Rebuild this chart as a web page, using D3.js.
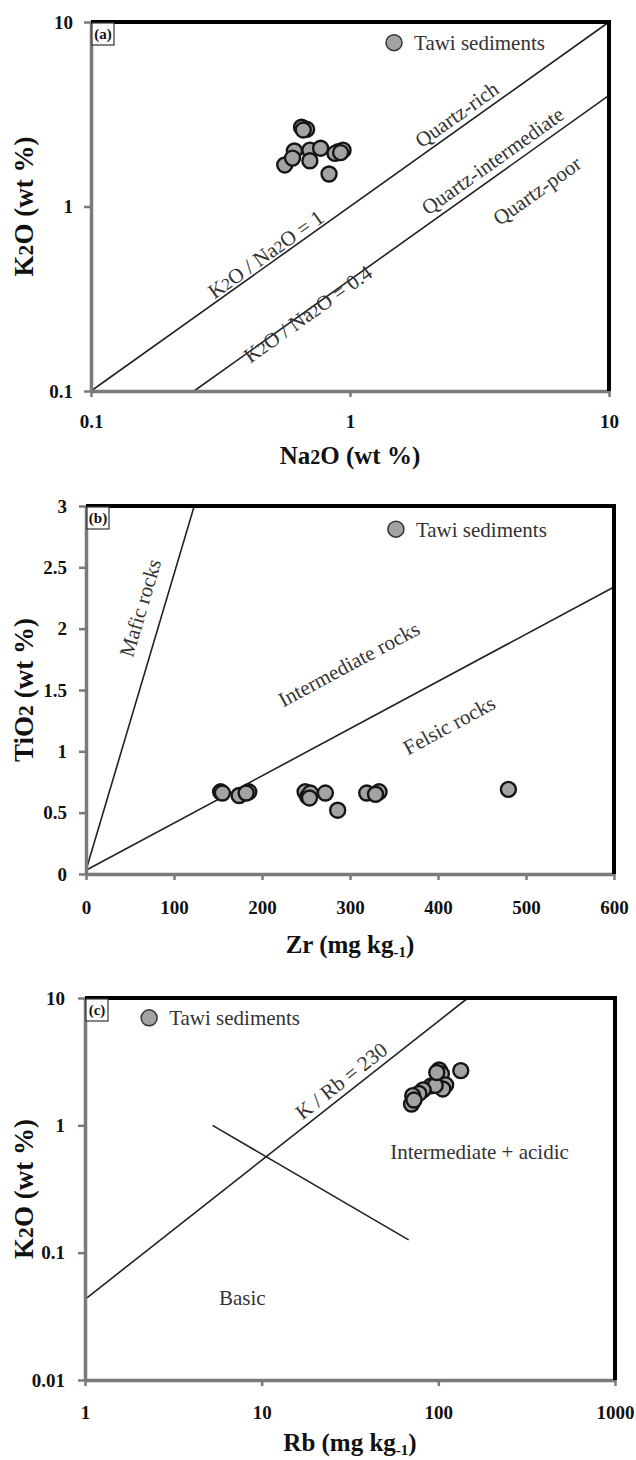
<!DOCTYPE html>
<html>
<head>
<meta charset="utf-8">
<script src="https://cdn.jsdelivr.net/npm/d3@7"></script>
<style>
body{margin:0;background:#fff;}
text{font-family:"Liberation Serif","Times New Roman",serif;fill:#111;}
</style>
</head>
<body>
<svg width="636" height="1460"></svg>
<script>
// (a) K2O vs Na2O
var na2oA = [0.65,0.68,0.66,0.61,0.70,0.77,0.90,0.94,0.875,0.56,0.70,0.60,0.83,0.92];
var k2oA  = [2.69,2.62,2.60,2.00,2.02,2.07,1.98,2.02,1.94,1.68,1.77,1.83,1.50,1.96];
var ticksA = [0.1,1,10];
var ratio1A  = [[0.1,0.1],[10,10]];
var ratio04A = [[0.25,0.1],[10,4]];

// (b) TiO2 vs Zr
var zrB   = [153,155,174,185,182,249,252,255,254,272,286,319,333,329,480];
var tio2B = [0.67,0.66,0.64,0.67,0.66,0.67,0.63,0.66,0.62,0.66,0.52,0.66,0.67,0.65,0.69];
var xTicksB = [0,100,200,300,400,500,600];
var yTicksB = [0,0.5,1,1.5,2,2.5,3];
var maficB  = [[0,0.03],[123,3]];
var felsicB = [[0,0.03],[600,2.34]];

// (c) K2O vs Rb
var rbC  = [134,101,104,110,106,91,96,82,77.6,71.6,70.5,72.8,98];
var k2oC = [2.69,2.72,2.53,2.08,1.93,2.04,2.06,1.90,1.78,1.71,1.47,1.58,2.6];
var xTicksC = [1,10,100,1000];
var yTicksC = [0.01,0.1,1,10];
var kRbC   = [[1,0.043],[147,10]];
var crossC = [[5.27,1],[67.9,0.126]];

var svg = d3.select("svg");

function rich(t, parts, size) {
  parts.forEach(function(p){
    var s = t.append("tspan").text(p[0]);
    if (p[1] == "s") s.attr("font-size", size*0.8);
    if (p[1] == "sub") s.attr("font-size", size*0.6).attr("dy", size*0.14);
    if (p[1] == "back") s.attr("dy", -size*0.14);
  });
}

function panel(o) {
  var g = svg.append("g");
  var x = o.x.range([o.left, o.right]);
  var y = o.y.range([o.bottom, o.top]);
  var line = d3.line().x(function(d){return x(d[0]);}).y(function(d){return y(d[1]);});

  o.lines.forEach(function(l){
    g.append("path").datum(l).attr("d", line)
      .attr("fill","none").attr("stroke","#222").attr("stroke-width",1.6);
  });

  // region labels, rotated along a boundary when asked
  o.labels.forEach(function(l){
    var ang = 0;
    if (l.along) {
      var a = l.along;
      ang = Math.atan2(y(a[1][1]) - y(a[0][1]), x(a[1][0]) - x(a[0][0])) * 180 / Math.PI;
    }
    var t = g.append("text")
      .attr("transform","translate("+x(l.at[0])+","+y(l.at[1])+") rotate("+ang+")")
      .attr("text-anchor","middle").attr("dy","0.35em")
      .attr("font-size",21).style("fill","#333");
    rich(t, l.parts, 21);
  });

  g.selectAll(".pt").data(o.xs).enter().append("circle")
    .attr("cx", function(d){return x(d);})
    .attr("cy", function(d,i){return y(o.ys[i]);})
    .attr("r", 7.5)
    .attr("fill","#a3a3a3").attr("stroke","#151515").attr("stroke-width",2.4);

  var xa = g.append("g").attr("transform","translate(0,"+o.bottom+")")
    .call(d3.axisBottom(x).tickValues(o.xt).tickFormat(function(d){return String(d);})
      .tickSize(6).tickSizeOuter(0).tickPadding(o.xpad));
  var ya = g.append("g").attr("transform","translate("+o.left+",0)")
    .call(d3.axisLeft(y).tickValues(o.yt).tickFormat(function(d){return String(d);})
      .tickSize(7).tickSizeOuter(0).tickPadding(o.ypad));
  [xa, ya].forEach(function(a){
    a.select(".domain").attr("stroke","#7a7a7a").attr("stroke-width",3.5);
    a.selectAll(".tick line").attr("stroke","#7a7a7a").attr("stroke-width",2.5);
    a.selectAll(".tick text").attr("font-family","'Liberation Serif',serif")
      .attr("font-weight","bold").attr("font-size",19).style("fill","#111");
  });

  g.append("path")
    .attr("d","M"+o.left+","+o.top+"H"+o.right+"V"+o.bottom)
    .attr("fill","none").attr("stroke","#000").attr("stroke-width",4);

  // panel tag
  g.append("rect").attr("x",o.left+1).attr("y",o.top+1).attr("width",22).attr("height",22)
    .attr("fill","#fff").attr("stroke","#333").attr("stroke-width",1.2);
  g.append("text").attr("x",o.left+12).attr("y",o.top+17).attr("text-anchor","middle")
    .attr("font-size",15).attr("font-weight","bold").text(o.tag);

  // legend
  var lx = o.left + o.leg[0]*(o.right-o.left), ly = o.top + o.leg[1]*(o.bottom-o.top);
  g.append("circle").attr("cx",lx).attr("cy",ly).attr("r",8)
    .attr("fill","#a3a3a3").attr("stroke","#333").attr("stroke-width",1.5);
  g.append("text").attr("x",lx+20).attr("y",ly).attr("dy","0.35em")
    .attr("font-size",21).style("fill","#333").text("Tawi sediments");

  var xt = g.append("text").attr("x",(o.left+o.right)/2).attr("y",o.xTitleY)
    .attr("text-anchor","middle").attr("font-weight","bold").attr("font-size",25);
  rich(xt, o.xTitle, 25);
  var yt = g.append("text")
    .attr("transform","translate("+o.yTitleX+","+(o.top+o.bottom)/2+") rotate(-90)")
    .attr("text-anchor","middle").attr("font-weight","bold").attr("font-size",27);
  rich(yt, o.yTitle, 27);
}

panel({
  x: d3.scaleLog().domain([0.1,10]), y: d3.scaleLog().domain([0.1,10]),
  left:91, right:609, top:22, bottom:391, xt:ticksA, yt:ticksA, xpad:18, ypad:11,
  xs:na2oA, ys:k2oA, lines:[ratio1A, ratio04A], tag:"(a)", leg:[0.585,0.056],
  labels:[
    {at:[2.58,3.16], along:ratio1A, parts:[["Quartz-rich"]]},
    {at:[3.55,1.77], along:ratio1A, parts:[["Quartz-intermediate"]]},
    {at:[5.27,1.22], along:ratio1A, parts:[["Quartz-poor"]]},
    {at:[0.472,0.552], along:ratio1A, parts:[["K"],["2","s"],["O / Na"],["2","s"],["O = 1"]]},
    {at:[0.687,0.262], along:ratio1A, parts:[["K"],["2","s"],["O / Na"],["2","s"],["O = 0.4"]]}
  ],
  xTitle:[["Na"],["2","s"],["O (wt %)"]], xTitleY:464,
  yTitle:[["K"],["2","s"],["O (wt %)"]], yTitleX:33
});

panel({
  x: d3.scaleLinear().domain([0,600]), y: d3.scaleLinear().domain([0,3]),
  left:86, right:614, top:506, bottom:874, xt:xTicksB, yt:yTicksB, xpad:21, ypad:12,
  xs:zrB, ys:tio2B, lines:[maficB, felsicB], tag:"(b)", leg:[0.587,0.063],
  labels:[
    {at:[61.4,2.17], along:maficB, parts:[["Mafic rocks"]]},
    {at:[298.6,1.713], along:felsicB, parts:[["Intermediate rocks"]]},
    {at:[412.6,1.214], along:felsicB, parts:[["Felsic rocks"]]}
  ],
  xTitle:[["Zr (mg kg"],["-1","sub"],[")","back"]], xTitleY:953,
  yTitle:[["TiO"],["2","s"],[" (wt %)"]], yTitleX:33
});

panel({
  x: d3.scaleLog().domain([1,1000]), y: d3.scaleLog().domain([0.01,10]),
  left:85, right:615, top:998, bottom:1380, xt:xTicksC, yt:yTicksC, xpad:20, ypad:13,
  xs:rbC, ys:k2oC, lines:[kRbC, crossC], tag:"(c)", leg:[0.121,0.052],
  labels:[
    {at:[28.2,2.24], along:kRbC, parts:[["K / Rb = 230"]]},
    {at:[171,0.625], parts:[["Intermediate + acidic"]]},
    {at:[7.77,0.044], parts:[["Basic"]]}
  ],
  xTitle:[["Rb (mg kg"],["-1","sub"],[")","back"]], xTitleY:1451,
  yTitle:[["K"],["2","s"],["O (wt %)"]], yTitleX:33
});
</script>
</body>
</html>
